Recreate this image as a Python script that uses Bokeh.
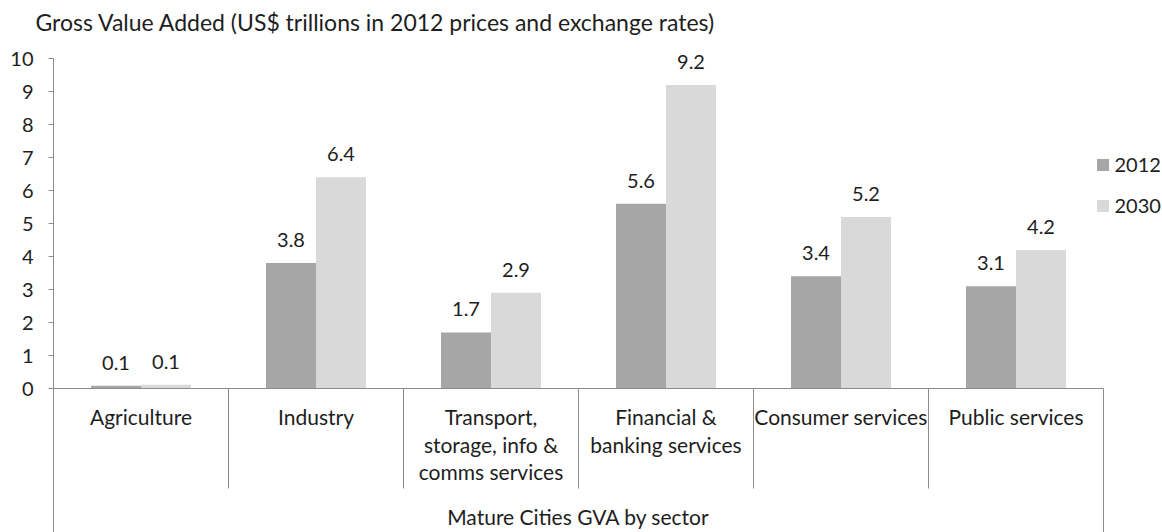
from bokeh.plotting import figure
from bokeh.models import Range1d, FixedTicker, Legend, LegendItem, ColumnDataSource
from bokeh.core.properties import value
from bokeh.embed import file_html
from bokeh.resources import INLINE

# ---- data ----
categories = ["Agriculture", "Industry", "Transport,\nstorage, info &\ncomms services",
              "Financial &\nbanking services", "Consumer services", "Public services"]
gva_2012 = [0.08, 3.8, 1.7, 5.6, 3.4, 3.1]
gva_2030 = [0.11, 6.4, 2.9, 9.2, 5.2, 4.2]
series_names = ["2012", "2030"]
y_ticks = [0, 1, 2, 3, 4, 5, 6, 7, 8, 9, 10]
title_text = "Gross Value Added (US$ trillions in 2012 prices and exchange rates)"
group_label = "Mature Cities GVA by sector"

# ---- layout / style ----
FONT = "Lato"
FS_NUM = "20px"
FS_CAT = "21px"
FS_TITLE = "23px"
TXT = "#1e1e1e"
AXC = "#8c8c8c"
C2012 = "#A6A6A6"
C2030 = "#D9D9D9"

W, H = 1162, 532
LEFT = 53
TOP = 40
PX = 175.0          # pixels per category
PY = 33.0           # pixels per unit
Y0 = 388.0          # zero line, from top of figure
n = len(categories)
x_start = -0.5
x_end = -0.5 + (W - LEFT) / PX
y_end = (Y0 - TOP) / PY
y_start = -(H - Y0) / PY

bw = 50.0 / PX
off = bw / 2

p = figure(width=W, height=H, x_range=Range1d(x_start, x_end), y_range=Range1d(y_start, y_end),
           min_border_left=LEFT, min_border_right=0, min_border_top=TOP, min_border_bottom=0,
           x_axis_location=None, output_backend="svg", toolbar_location=None,
           title=title_text)
p.grid.visible = False
p.outline_line_color = None
p.background_fill_color = "white"

p.title.align = "left"
p.title.offset = -18
p.title.standoff = 9
p.title.text_font = FONT
p.title.text_font_size = FS_TITLE
p.title.text_font_style = "normal"
p.title.text_color = TXT

ya = p.yaxis[0]
ya.ticker = FixedTicker(ticks=y_ticks)
ya.bounds = (y_start, max(y_ticks))
ya.axis_line_color = AXC
ya.major_tick_line_color = AXC
ya.major_tick_in = 0
ya.major_tick_out = 5
ya.minor_tick_line_color = None
ya.major_label_standoff = 15
ya.major_label_text_font = FONT
ya.major_label_text_font_size = FS_NUM
ya.major_label_text_color = TXT

idx = list(range(n))
src = ColumnDataSource(dict(
    x1=[i - off for i in idx], x2=[i + off for i in idx],
    v1=gva_2012, v2=gva_2030,
    t1=[f"{v:.1f}" for v in gva_2012], t2=[f"{v:.1f}" for v in gva_2030],
))

r1 = p.vbar(x="x1", top="v1", width=bw, source=src, fill_color=C2012, line_color=None)
r2 = p.vbar(x="x2", top="v2", width=bw, source=src, fill_color=C2030, line_color=None)

for xcol, tcol, vcol in (("x1", "t1", "v1"), ("x2", "t2", "v2")):
    p.text(x=xcol, y=vcol, text=tcol, source=src, text_align="center",
           text_baseline="middle", y_offset=-23,
           text_font=value(FONT), text_font_size=FS_NUM, text_color=TXT)

# zero baseline and category separators
p.segment(x0=[-0.5], y0=[0], x1=[n - 0.5], y1=[0], line_color=AXC, line_width=1)
sep_bottom = -100.0 / PY
p.segment(x0=[k - 0.5 for k in range(1, n)], y0=[0] * (n - 1),
          x1=[k - 0.5 for k in range(1, n)], y1=[sep_bottom] * (n - 1),
          line_color=AXC, line_width=1)
p.segment(x0=[n - 0.5], y0=[0], x1=[n - 0.5], y1=[y_start], line_color=AXC, line_width=1)

# category labels (multi-line)
lx, ly, lt = [], [], []
first = -28.0 / PY
pitch = 27.5 / PY
for i, cat in enumerate(categories):
    for j, line in enumerate(cat.split("\n")):
        lx.append(i)
        ly.append(first - j * pitch)
        lt.append(line)
p.text(x=lx, y=ly, text=lt, text_align="center", text_baseline="middle",
       text_font=value(FONT), text_font_size=FS_CAT, text_color=TXT)

p.text(x=[(n - 1) / 2], y=[-128.0 / PY], text=[group_label], text_align="center",
       text_baseline="middle", text_font=value(FONT), text_font_size=FS_CAT, text_color=TXT)

legend = Legend(items=[LegendItem(label=series_names[0], renderers=[r1]),
                       LegendItem(label=series_names[1], renderers=[r2])],
                location=(1041.5, 315), glyph_width=15, glyph_height=15, label_standoff=5,
                spacing=17, padding=0, margin=0, border_line_color=None,
                background_fill_alpha=0, label_text_font=FONT, label_text_font_size=FS_NUM,
                label_text_color=TXT, label_height=24)
p.add_layout(legend)

open("out.html", "w").write(file_html(p, INLINE))
